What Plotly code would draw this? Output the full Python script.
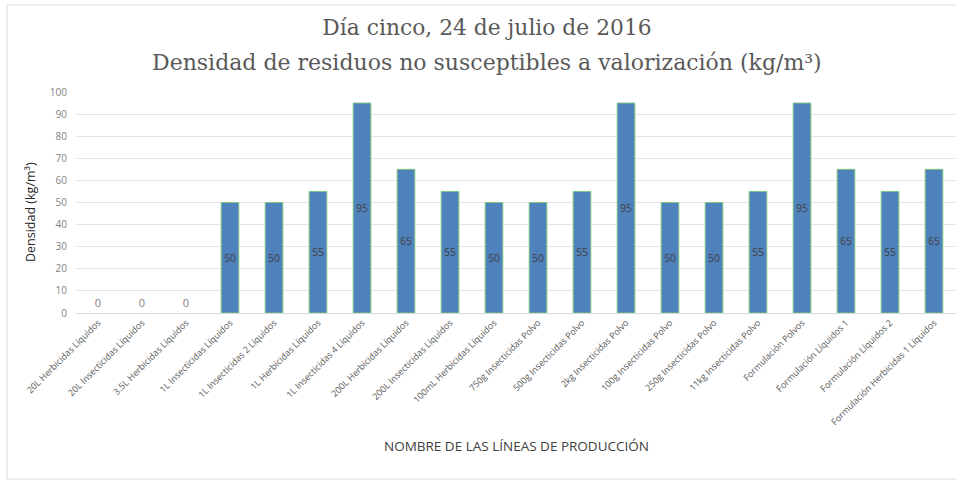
import plotly.graph_objects as go

categories = [
    "20L Herbicidas Líquidos", "20L Insecticidas Líquidos", "3.5L Herbicidas Líquidos",
    "1L Insecticidas Líquidos", "1L Insecticidas 2 Líquidos", "1L Herbicidas Líquidos",
    "1L Insecticidas 4 Líquidos", "200L Herbicidas Líquidos", "200L Insecticidas Líquidos",
    "100mL Herbicidas Líquidos", "750g Insecticidas Polvo", "500g Insecticidas Polvo",
    "2kg Insecticidas Polvo", "100g Insecticidas Polvo", "250g Insecticidas Polvo",
    "11kg Insecticidas Polvo", "Formulación Polvos", "Formulación Líquidos 1",
    "Formulación Líquidos 2", "Formulación Herbicidas 1 Líquidos",
]
values = [0, 0, 0, 50, 50, 55, 95, 65, 55, 50, 50, 55, 95, 50, 50, 55, 95, 65, 55, 65]
y_ticks = [0, 10, 20, 30, 40, 50, 60, 70, 80, 90, 100]

W, H = 956, 481
ML, MR, MT, MB = 76, 0, 92, 168
pw, ph = W - ML - MR, H - MT - MB

font_ui = "Open Sans, Liberation Sans, sans-serif"
font_title = "DejaVu Serif, serif"

fig = go.Figure(go.Bar(
    x=categories, y=values,
    marker=dict(color="#4F81BD",
                line=dict(color="#7CC47F", width=[0 if v == 0 else 1 for v in values])),
    width=0.4,
    text=[str(v) for v in values],
    textposition=["outside" if v == 0 else "inside" for v in values],
    insidetextanchor="middle",
    textangle=0,
    insidetextfont=dict(family=font_ui, size=11, color="#404040"),
    outsidetextfont=dict(family=font_ui, size=11, color="#7F7F7F"),
    cliponaxis=False,
))

fig.update_layout(
    width=W, height=H,
    margin=dict(l=ML, r=MR, t=MT, b=MB),
    paper_bgcolor="white", plot_bgcolor="white",
    showlegend=False,
    title=dict(
        text="Día cinco, 24 de julio de 2016",
        x=487 / W, xref="container", xanchor="center",
        y=1 - 27 / H, yref="container", yanchor="middle",
        font=dict(family=font_title, size=21.8, color="#595959"),
    ),
    xaxis=dict(
        tickangle=-45, tickfont=dict(family=font_ui, size=9, color="#595959"),
        showgrid=False, showline=True, linecolor="#D9D9D9", linewidth=1,
        ticks="", fixedrange=True,
    ),
    yaxis=dict(
        range=[0, 100], tickvals=y_ticks, ticks="",
        tickfont=dict(family=font_ui, size=10, color="#7F7F7F"),
        showgrid=True, gridcolor="#E3E3E3", gridwidth=1, zeroline=False,
        showline=False, ticklabelstandoff=8,
    ),
    annotations=[
        dict(text="Densidad de residuos no susceptibles a valorización (kg/m³)",
             xref="paper", yref="paper",
             x=(487 - ML) / pw, y=1 + (MT - 62) / ph, showarrow=False,
             xanchor="center", yanchor="middle",
             font=dict(family=font_title, size=22, color="#595959")),
        dict(text="Densidad (kg/m³)", xref="paper", yref="paper",
             x=(30 - ML) / pw, y=(H - MB - 212) / ph, textangle=-90, showarrow=False,
             xanchor="center", yanchor="middle",
             font=dict(family=font_ui, size=12.5, color="#262626")),
        dict(text="NOMBRE DE LAS LÍNEAS DE PRODUCCIÓN", xref="paper", yref="paper",
             x=(516 - ML) / pw, y=-(446 - (H - MB)) / ph, showarrow=False,
             xanchor="center", yanchor="middle",
             font=dict(family=font_ui, size=13.5, color="#404040")),
    ],
    shapes=[
        dict(type="rect", xref="paper", yref="paper",
             x0=(7 - ML) / pw, x1=(W + 20 - ML) / pw,
             y0=-(479 - (H - MB)) / ph, y1=1 + (MT - 5) / ph,
             line=dict(color="#D9D9D9", width=1), fillcolor="rgba(0,0,0,0)", layer="below"),
    ],
    bargap=0.6,
)

fig.write_html("out.html")
